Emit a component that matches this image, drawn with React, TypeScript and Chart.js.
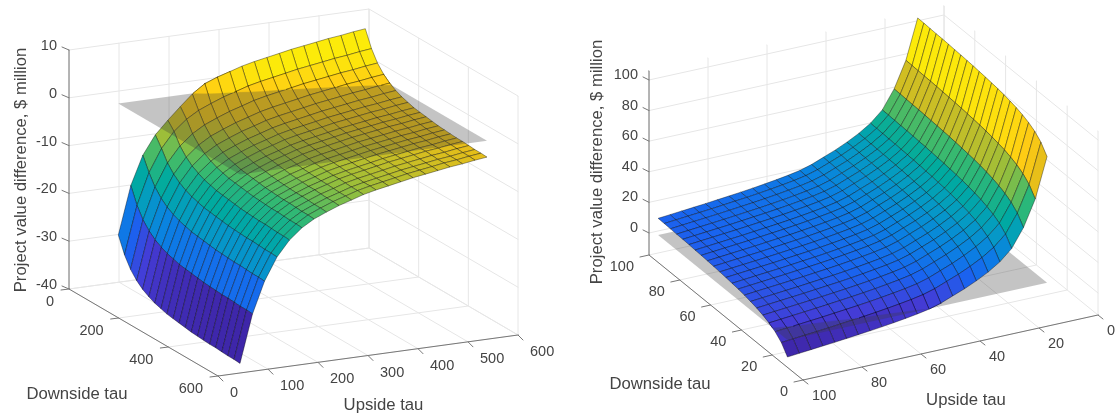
import React, { useEffect, useRef } from "react";
import { Chart, registerables } from "chart.js";

Chart.register(...registerables);

// ---------- LEFT PANEL DATA ----------
const leftUpside = [44, 69, 93, 118, 143, 168, 192, 217, 242, 267, 291, 316, 341, 366, 390, 415, 440, 464, 489, 514, 538];
const leftDownside = [110, 135, 159, 184, 208, 233, 257, 282, 306, 331, 355, 380, 404, 429, 453, 478, 502, 527, 551, 576, 600];
// rows: downside tau, columns: upside tau
const leftValues = [
  [-26, -16, -10, -6.1, -3.4, -0.9, 1.4, 3.2, 4.2, 5, 5.8, 6.4, 6.9, 7.4, 7.9, 8.3, 8.7, 9.1, 9.4, 9.8, 10.1],
  [-29.4, -19.4, -12.9, -8.2, -5, -2.8, -1.3, -0.2, 0.8, 1.6, 2.4, 3, 3.5, 4, 4.5, 4.9, 5.3, 5.7, 6, 6.4, 6.7],
  [-31.7, -21.7, -15.2, -10.5, -7.3, -5.1, -3.6, -2.5, -1.5, -0.7, 0.1, 0.7, 1.2, 1.7, 2.2, 2.6, 3, 3.4, 3.7, 4.1, 4.4],
  [-33.3, -23.3, -16.8, -12.1, -8.9, -6.7, -5.2, -4.1, -3.1, -2.3, -1.5, -0.9, -0.4, 0.1, 0.6, 1, 1.4, 1.8, 2.1, 2.5, 2.8],
  [-34.4, -24.4, -17.9, -13.2, -10, -7.8, -6.3, -5.2, -4.2, -3.4, -2.6, -2, -1.5, -1, -0.5, -0.1, 0.3, 0.7, 1, 1.4, 1.7],
  [-35.2, -25.2, -18.7, -14, -10.8, -8.6, -7.1, -6, -5, -4.2, -3.4, -2.8, -2.3, -1.8, -1.3, -0.9, -0.5, -0.1, 0.2, 0.6, 0.9],
  [-35.8, -25.8, -19.3, -14.6, -11.4, -9.2, -7.7, -6.6, -5.6, -4.8, -4, -3.4, -2.9, -2.4, -1.9, -1.5, -1.1, -0.7, -0.4, 0, 0.3],
  [-36.2, -26.2, -19.7, -15, -11.8, -9.6, -8.1, -7, -6, -5.2, -4.4, -3.8, -3.3, -2.8, -2.3, -1.9, -1.5, -1.1, -0.8, -0.4, -0.1],
  [-36.6, -26.6, -20.1, -15.4, -12.2, -10, -8.5, -7.4, -6.4, -5.6, -4.8, -4.2, -3.7, -3.2, -2.7, -2.3, -1.9, -1.5, -1.2, -0.8, -0.5],
  [-36.8, -26.8, -20.3, -15.6, -12.4, -10.2, -8.7, -7.6, -6.6, -5.8, -5, -4.4, -3.9, -3.4, -2.9, -2.5, -2.1, -1.7, -1.4, -1, -0.7],
  [-37, -27, -20.5, -15.8, -12.6, -10.4, -8.9, -7.8, -6.8, -6, -5.2, -4.6, -4.1, -3.6, -3.1, -2.7, -2.3, -1.9, -1.6, -1.2, -0.9],
  [-37.2, -27.2, -20.7, -16, -12.8, -10.6, -9.1, -8, -7, -6.2, -5.4, -4.8, -4.3, -3.8, -3.3, -2.9, -2.5, -2.1, -1.8, -1.4, -1.1],
  [-37.4, -27.4, -20.9, -16.2, -13, -10.8, -9.3, -8.2, -7.2, -6.4, -5.6, -5, -4.5, -4, -3.5, -3.1, -2.7, -2.3, -2, -1.6, -1.3],
  [-37.5, -27.5, -21, -16.3, -13.1, -10.9, -9.4, -8.3, -7.3, -6.5, -5.7, -5.1, -4.6, -4.1, -3.6, -3.2, -2.8, -2.4, -2.1, -1.7, -1.4],
  [-37.6, -27.6, -21.1, -16.4, -13.2, -11, -9.5, -8.4, -7.4, -6.6, -5.8, -5.2, -4.7, -4.2, -3.7, -3.3, -2.9, -2.5, -2.2, -1.8, -1.5],
  [-37.7, -27.7, -21.2, -16.5, -13.3, -11.1, -9.6, -8.5, -7.5, -6.7, -5.9, -5.3, -4.8, -4.3, -3.8, -3.4, -3, -2.6, -2.3, -1.9, -1.6],
  [-37.7, -27.7, -21.2, -16.5, -13.3, -11.1, -9.6, -8.5, -7.5, -6.7, -5.9, -5.3, -4.8, -4.3, -3.8, -3.4, -3, -2.6, -2.3, -1.9, -1.6],
  [-37.8, -27.8, -21.3, -16.6, -13.4, -11.2, -9.7, -8.6, -7.6, -6.8, -6, -5.4, -4.9, -4.4, -3.9, -3.5, -3.1, -2.7, -2.4, -2, -1.7],
  [-37.9, -27.9, -21.4, -16.7, -13.5, -11.3, -9.8, -8.7, -7.7, -6.9, -6.1, -5.5, -5, -4.5, -4, -3.6, -3.2, -2.8, -2.5, -2.1, -1.8],
  [-37.9, -27.9, -21.4, -16.7, -13.5, -11.3, -9.8, -8.7, -7.7, -6.9, -6.1, -5.5, -5, -4.5, -4, -3.6, -3.2, -2.8, -2.5, -2.1, -1.8],
  [-38, -28, -21.5, -16.8, -13.6, -11.4, -9.9, -8.8, -7.8, -7, -6.2, -5.6, -5.1, -4.6, -4.1, -3.7, -3.3, -2.9, -2.6, -2.2, -1.9],
];
const leftUpsideTicks = [0, 100, 200, 300, 400, 500, 600];
const leftDownsideTicks = [0, 200, 400, 600];
const leftValueTicks = [-40, -30, -20, -10, 0, 10];
const leftPlaneValue = 1.5;

// ---------- RIGHT PANEL DATA ----------
const rightUpside = [11, 15, 19, 23, 27, 31, 35, 39, 43, 47, 51, 55, 59, 63, 67, 71, 75, 79, 83, 87, 91, 95, 99];
const rightDownside = [12, 16, 20, 24, 28, 32, 36, 40, 44, 48, 52, 56, 60, 64, 68, 72, 76, 80, 84, 88, 92, 96];
const rightValues = [
  [84, 58, 41, 29, 22, 17, 13, 9.5, 6.5, 3.5, 1.3, -0.2, -1.4, -2.5, -3.5, -4.4, -5.2, -6, -6.8, -7.5, -8.2, -8.9, -9.6],
  [90.2, 64.2, 47.2, 35.2, 28.2, 23.2, 19.2, 15.7, 12.7, 9.7, 7.5, 6, 4.8, 3.7, 2.7, 1.8, 1, 0.2, -0.6, -1.3, -2, -2.7, -3.4],
  [94, 68, 51, 39, 32, 27, 23, 19.5, 16.5, 13.5, 11.3, 9.8, 8.6, 7.5, 6.5, 5.6, 4.8, 4, 3.2, 2.5, 1.8, 1.1, 0.4],
  [96.5, 70.5, 53.5, 41.5, 34.5, 29.5, 25.5, 22, 19, 16, 13.8, 12.3, 11.1, 10, 9, 8.1, 7.3, 6.5, 5.7, 5, 4.3, 3.6, 2.9],
  [98.3, 72.3, 55.3, 43.3, 36.3, 31.3, 27.3, 23.8, 20.8, 17.8, 15.6, 14.1, 12.9, 11.8, 10.8, 9.9, 9.1, 8.3, 7.5, 6.8, 6.1, 5.4, 4.7],
  [99.7, 73.7, 56.7, 44.7, 37.7, 32.7, 28.7, 25.2, 22.2, 19.2, 17, 15.5, 14.3, 13.2, 12.2, 11.3, 10.5, 9.7, 8.9, 8.2, 7.5, 6.8, 6.1],
  [100.7, 74.7, 57.7, 45.7, 38.7, 33.7, 29.7, 26.2, 23.2, 20.2, 18, 16.5, 15.3, 14.2, 13.2, 12.3, 11.5, 10.7, 9.9, 9.2, 8.5, 7.8, 7.1],
  [101.6, 75.6, 58.6, 46.6, 39.6, 34.6, 30.6, 27.1, 24.1, 21.1, 18.9, 17.4, 16.2, 15.1, 14.1, 13.2, 12.4, 11.6, 10.8, 10.1, 9.4, 8.7, 8],
  [102.3, 76.3, 59.3, 47.3, 40.3, 35.3, 31.3, 27.8, 24.8, 21.8, 19.6, 18.1, 16.9, 15.8, 14.8, 13.9, 13.1, 12.3, 11.5, 10.8, 10.1, 9.4, 8.7],
  [102.8, 76.8, 59.8, 47.8, 40.8, 35.8, 31.8, 28.3, 25.3, 22.3, 20.1, 18.6, 17.4, 16.3, 15.3, 14.4, 13.6, 12.8, 12, 11.3, 10.6, 9.9, 9.2],
  [103.3, 77.3, 60.3, 48.3, 41.3, 36.3, 32.3, 28.8, 25.8, 22.8, 20.6, 19.1, 17.9, 16.8, 15.8, 14.9, 14.1, 13.3, 12.5, 11.8, 11.1, 10.4, 9.7],
  [103.7, 77.7, 60.7, 48.7, 41.7, 36.7, 32.7, 29.2, 26.2, 23.2, 21, 19.5, 18.3, 17.2, 16.2, 15.3, 14.5, 13.7, 12.9, 12.2, 11.5, 10.8, 10.1],
  [104.1, 78.1, 61.1, 49.1, 42.1, 37.1, 33.1, 29.6, 26.6, 23.6, 21.4, 19.9, 18.7, 17.6, 16.6, 15.7, 14.9, 14.1, 13.3, 12.6, 11.9, 11.2, 10.5],
  [104.4, 78.4, 61.4, 49.4, 42.4, 37.4, 33.4, 29.9, 26.9, 23.9, 21.7, 20.2, 19, 17.9, 16.9, 16, 15.2, 14.4, 13.6, 12.9, 12.2, 11.5, 10.8],
  [104.7, 78.7, 61.7, 49.7, 42.7, 37.7, 33.7, 30.2, 27.2, 24.2, 22, 20.5, 19.3, 18.2, 17.2, 16.3, 15.5, 14.7, 13.9, 13.2, 12.5, 11.8, 11.1],
  [104.9, 78.9, 61.9, 49.9, 42.9, 37.9, 33.9, 30.4, 27.4, 24.4, 22.2, 20.7, 19.5, 18.4, 17.4, 16.5, 15.7, 14.9, 14.1, 13.4, 12.7, 12, 11.3],
  [105.2, 79.2, 62.2, 50.2, 43.2, 38.2, 34.2, 30.7, 27.7, 24.7, 22.5, 21, 19.8, 18.7, 17.7, 16.8, 16, 15.2, 14.4, 13.7, 13, 12.3, 11.6],
  [105.4, 79.4, 62.4, 50.4, 43.4, 38.4, 34.4, 30.9, 27.9, 24.9, 22.7, 21.2, 20, 18.9, 17.9, 17, 16.2, 15.4, 14.6, 13.9, 13.2, 12.5, 11.8],
  [105.5, 79.5, 62.5, 50.5, 43.5, 38.5, 34.5, 31, 28, 25, 22.8, 21.3, 20.1, 19, 18, 17.1, 16.3, 15.5, 14.7, 14, 13.3, 12.6, 11.9],
  [105.7, 79.7, 62.7, 50.7, 43.7, 38.7, 34.7, 31.2, 28.2, 25.2, 23, 21.5, 20.3, 19.2, 18.2, 17.3, 16.5, 15.7, 14.9, 14.2, 13.5, 12.8, 12.1],
  [105.9, 79.9, 62.9, 50.9, 43.9, 38.9, 34.9, 31.4, 28.4, 25.4, 23.2, 21.7, 20.5, 19.4, 18.4, 17.5, 16.7, 15.9, 15.1, 14.4, 13.7, 13, 12.3],
  [106, 80, 63, 51, 44, 39, 35, 31.5, 28.5, 25.5, 23.3, 21.8, 20.6, 19.5, 18.5, 17.6, 16.8, 16, 15.2, 14.5, 13.8, 13.1, 12.4],
];
const rightUpsideTicks = [0, 20, 40, 60, 80, 100];
const rightDownsideTicks = [0, 20, 40, 60, 80, 100];
const rightValueTicks = [0, 20, 40, 60, 80, 100];
const rightPlaneValue = 1.5;

const axisTitleValue = "Project value difference, $ million";
const axisTitleUpside = "Upside tau";
const axisTitleDownside = "Downside tau";

// ---------- STYLE ----------
const parula = [
  [62, 38, 168], [68, 60, 215], [25, 100, 240], [10, 130, 225], [5, 155, 195], [0, 170, 160],
  [50, 185, 115], [150, 190, 60], [230, 190, 25], [255, 205, 20], [252, 235, 10],
];
const FONT = '"Liberation Sans", Arial, sans-serif';
const TEXT = "#444444";
const GRID = "#e6e6e6";
const AXIS = "#777777";
const EDGE = "rgba(0,0,0,0.62)";
const PLANE = "rgba(60,60,60,0.3)";

type P3 = { u: number; d: number; z: number };

type Panel = {
  xMin: number; xMax: number;
  upside: number[]; downside: number[]; values: number[][];
  uTicks: number[]; dTicks: number[]; zTicks: number[];
  planeZ: number; colorTop: number;
  uRange: [number, number]; dRange: [number, number]; zRange: [number, number];
  origin: [number, number];
  uVec: [number, number]; dVec: [number, number]; zLen: number;
  uFlip: boolean; dFlip: boolean;
  zWallTop: number;
  zTick: [number, number]; uTick: [number, number]; dTick: [number, number];
  uLabel: [number, number]; dLabel: [number, number]; zLabelX: number; zLabelDy: number;
  titleU: [number, number]; titleD: [number, number]; titleZ: [number, number];
};

const leftPanel: Panel = {
  xMin: 0, xMax: 559,
  upside: leftUpside, downside: leftDownside, values: leftValues,
  uTicks: leftUpsideTicks, dTicks: leftDownsideTicks, zTicks: leftValueTicks,
  planeZ: leftPlaneValue, colorTop: 7,
  uRange: [0, 600], dRange: [0, 600], zRange: [-40, 10],
  origin: [69, 289], uVec: [300, -41], dVec: [149, 87], zLen: 239,
  uFlip: false, dFlip: false, zWallTop: 10,
  zTick: [-7, -3], uTick: [5, 5], dTick: [-8, 1],
  uLabel: [12, 17], dLabel: [-15, 13], zLabelX: 57, zLabelDy: -4,
  titleU: [383.5, 405], titleD: [77, 394], titleZ: [21, 170],
};

const rightPanel: Panel = {
  xMin: 559, xMax: 1118,
  upside: rightUpside, downside: rightDownside, values: rightValues,
  uTicks: rightUpsideTicks, dTicks: rightDownsideTicks, zTicks: rightValueTicks,
  planeZ: rightPlaneValue, colorTop: 106,
  uRange: [0, 100], dRange: [0, 100], zRange: [-14.4, 106],
  origin: [649, 255], uVec: [295, -65], dVec: [154, 125], zLen: 184.2,
  uFlip: true, dFlip: true, zWallTop: 106,
  zTick: [-6, -3], uTick: [5, 4], dTick: [-9, 2],
  uLabel: [9, 16], dLabel: [-15, 11.5], zLabelX: 638, zLabelDy: -5,
  titleU: [966, 400], titleD: [660, 384], titleZ: [597, 162],
};

function project(p: Panel, q: P3) {
  const fu = (q.u - p.uRange[0]) / (p.uRange[1] - p.uRange[0]);
  const fd = (q.d - p.dRange[0]) / (p.dRange[1] - p.dRange[0]);
  const a = p.uFlip ? 1 - fu : fu;
  const b = p.dFlip ? 1 - fd : fd;
  const c = (q.z - p.zRange[0]) / (p.zRange[1] - p.zRange[0]);
  return {
    x: p.origin[0] + a * p.uVec[0] + b * p.dVec[0],
    y: p.origin[1] + a * p.uVec[1] + b * p.dVec[1] - c * p.zLen,
  };
}

function colorAt(t: number) {
  const v = Math.max(0, Math.min(0.9999, t)) * (parula.length - 1);
  const k = Math.floor(v);
  const f = v - k;
  const a = parula[k];
  const b = parula[k + 1];
  return `rgb(${a.map((c, i) => Math.round(c + (b[i] - c) * f)).join(",")})`;
}

function clipAbove(poly: P3[], level: number) {
  const out: P3[] = [];
  for (let n = 0; n < poly.length; n++) {
    const a = poly[n];
    const b = poly[(n + 1) % poly.length];
    const ai = a.z >= level;
    const bi = b.z >= level;
    if (ai) out.push(a);
    if (ai !== bi) {
      const f = (level - a.z) / (b.z - a.z);
      out.push({ u: a.u + (b.u - a.u) * f, d: a.d + (b.d - a.d) * f, z: level });
    }
  }
  return out;
}

function buildDatasets(p: Panel) {
  const ds: any[] = [];
  const line = (pts: { x: number; y: number }[], color: string, width: number) =>
    ds.push({
      data: pts, showLine: true, fill: false, borderColor: color, borderWidth: width,
      pointRadius: 0, tension: 0, borderCapStyle: "round",
    });
  const poly = (pts: { x: number; y: number }[], fillColor: string, color: string, width: number) =>
    ds.push({
      data: [...pts, pts[0]], showLine: true, fill: "shape", backgroundColor: fillColor,
      borderColor: color, borderWidth: width, pointRadius: 0, tension: 0, borderJoinStyle: "round",
    });

  const [u0, u1] = p.uRange;
  const [d0, d1] = p.dRange;
  const [zb] = p.zRange;
  const uBack = p.uFlip ? u0 : u1;
  const dBack = p.dFlip ? d1 : d0;
  const uNear = p.uFlip ? u1 : u0;
  const dNear = p.dFlip ? d0 : d1;
  const P = (u: number, d: number, z: number) => project(p, { u, d, z });

  p.uTicks.forEach((u) => {
    line([P(u, dNear, zb), P(u, dBack, zb), P(u, dBack, p.zWallTop)], GRID, 1);
  });
  p.dTicks.forEach((d) => {
    line([P(uNear, d, zb), P(uBack, d, zb), P(uBack, d, p.zWallTop)], GRID, 1);
  });
  p.zTicks.forEach((z) => {
    line([P(uNear, dBack, z), P(uBack, dBack, z), P(uBack, dNear, z)], GRID, 1);
  });

  line([P(uNear, dBack, zb), P(uNear, dBack, p.zWallTop)], AXIS, 1);
  line([P(uNear, dBack, zb), P(uNear, dNear, zb)], AXIS, 1);
  line([P(uNear, dNear, zb), P(uBack, dNear, zb)], AXIS, 1);
  p.zTicks.forEach((z) => {
    const a = P(uNear, dBack, z);
    line([a, { x: a.x + p.zTick[0], y: a.y + p.zTick[1] }], AXIS, 1);
  });
  p.dTicks.forEach((d) => {
    const a = P(uNear, d, zb);
    line([a, { x: a.x + p.dTick[0], y: a.y + p.dTick[1] }], AXIS, 1);
  });
  p.uTicks.forEach((u) => {
    const a = P(u, dNear, zb);
    line([a, { x: a.x + p.uTick[0], y: a.y + p.uTick[1] }], AXIS, 1);
  });

  const zMin = Math.min(...p.values.flat());
  const zMax = p.colorTop;
  const iList = p.upside.slice(0, -1).map((_, i) => i);
  const jList = p.downside.slice(0, -1).map((_, j) => j);
  if (!p.uFlip) iList.reverse();
  if (p.dFlip) jList.reverse();
  const corner = (i: number, j: number): P3 => ({ u: p.upside[i], d: p.downside[j], z: p.values[j][i] });

  const cells: { c: P3[]; col: string }[] = [];
  jList.forEach((j) =>
    iList.forEach((i) => {
      cells.push({
        c: [corner(i, j), corner(i + 1, j), corner(i + 1, j + 1), corner(i, j + 1)],
        col: colorAt((p.values[j][i] - zMin) / (zMax - zMin)),
      });
    })
  );

  cells.forEach(({ c, col }) => {
    if (c.every((q) => q.z >= p.planeZ)) return;
    poly(c.map((q) => project(p, q)), col, EDGE, 0.6);
  });

  const uA = p.upside[0], uB = p.upside[p.upside.length - 1];
  const dA = p.downside[0], dB = p.downside[p.downside.length - 1];
  const pz = p.planeZ;
  poly([P(uA, dA, pz), P(uB, dA, pz), P(uB, dB, pz), P(uA, dB, pz)], PLANE, "rgba(0,0,0,0)", 0);

  cells.forEach(({ c, col }) => {
    if (c.every((q) => q.z < pz)) return;
    if (c.every((q) => q.z >= pz)) {
      poly(c.map((q) => project(p, q)), col, EDGE, 0.6);
      return;
    }
    const part = clipAbove(c, pz);
    if (part.length < 3) return;
    poly(part.map((q) => project(p, q)), col, col, 0.3);
    for (let n = 0; n < 4; n++) {
      const a = c[n];
      const b = c[(n + 1) % 4];
      if (a.z < pz && b.z < pz) continue;
      let s = a, e = b;
      if (a.z < pz || b.z < pz) {
        const f = (pz - a.z) / (b.z - a.z);
        const m = { u: a.u + (b.u - a.u) * f, d: a.d + (b.d - a.d) * f, z: pz };
        if (a.z < pz) s = m; else e = m;
      }
      line([project(p, s), project(p, e)], EDGE, 0.6);
    }
  });

  return ds.reverse(); // Chart.js paints the last dataset first
}

function labelsPlugin(p: Panel) {
  return {
    id: "panelText",
    afterDraw(chart: any) {
      const { ctx, scales } = chart;
      const X = (v: number) => scales.x.getPixelForValue(v);
      const Y = (v: number) => scales.y.getPixelForValue(v);
      const [zb] = p.zRange;
      const uNear = p.uFlip ? p.uRange[1] : p.uRange[0];
      const dBack = p.dFlip ? p.dRange[1] : p.dRange[0];
      const dNear = p.dFlip ? p.dRange[0] : p.dRange[1];
      ctx.save();
      ctx.fillStyle = TEXT;
      ctx.textBaseline = "middle";
      ctx.font = `14.5px ${FONT}`;
      ctx.textAlign = "right";
      p.zTicks.forEach((z) => {
        const a = project(p, { u: uNear, d: dBack, z });
        ctx.fillText(String(z), X(p.zLabelX), Y(a.y + p.zLabelDy));
      });
      p.dTicks.forEach((d) => {
        const a = project(p, { u: uNear, d, z: zb });
        ctx.fillText(String(d), X(a.x + p.dLabel[0]), Y(a.y + p.dLabel[1]));
      });
      ctx.textAlign = "left";
      p.uTicks.forEach((u) => {
        const a = project(p, { u, d: dNear, z: zb });
        ctx.fillText(String(u), X(a.x + p.uLabel[0]), Y(a.y + p.uLabel[1]));
      });
      ctx.textAlign = "center";
      ctx.font = `16.7px ${FONT}`;
      ctx.fillText(axisTitleUpside, X(p.titleU[0]), Y(p.titleU[1]));
      ctx.fillText(axisTitleDownside, X(p.titleD[0]), Y(p.titleD[1]));
      ctx.translate(X(p.titleZ[0]), Y(p.titleZ[1]));
      ctx.rotate(-Math.PI / 2);
      ctx.fillText(axisTitleValue, 0, 0);
      ctx.restore();
    },
  };
}

function PanelChart({ panel }: { panel: Panel }) {
  const ref = useRef<HTMLCanvasElement | null>(null);
  useEffect(() => {
    const chart = new Chart(ref.current as HTMLCanvasElement, {
      type: "scatter",
      data: { datasets: buildDatasets(panel) },
      options: {
        animation: false,
        responsive: false,
        maintainAspectRatio: false,
        events: [],
        layout: { padding: 0 },
        plugins: { legend: { display: false }, tooltip: { enabled: false }, title: { display: false } },
        scales: {
          x: { type: "linear", min: panel.xMin, max: panel.xMax, display: false },
          y: { type: "linear", min: 0, max: 418, reverse: true, display: false },
        },
      },
      plugins: [labelsPlugin(panel)],
    } as any);
    return () => chart.destroy();
  }, [panel]);
  return (
    <canvas
      ref={ref}
      width={panel.xMax - panel.xMin}
      height={418}
      style={{ position: "absolute", left: panel.xMin, top: 0, width: panel.xMax - panel.xMin, height: 418, display: "block" }}
    />
  );
}

export default function App() {
  return (
    <div style={{ position: "absolute", left: 0, top: 0, width: 1118, height: 418, overflow: "hidden", background: "#fff" }}>
      <PanelChart panel={leftPanel} />
      <PanelChart panel={rightPanel} />
    </div>
  );
}
